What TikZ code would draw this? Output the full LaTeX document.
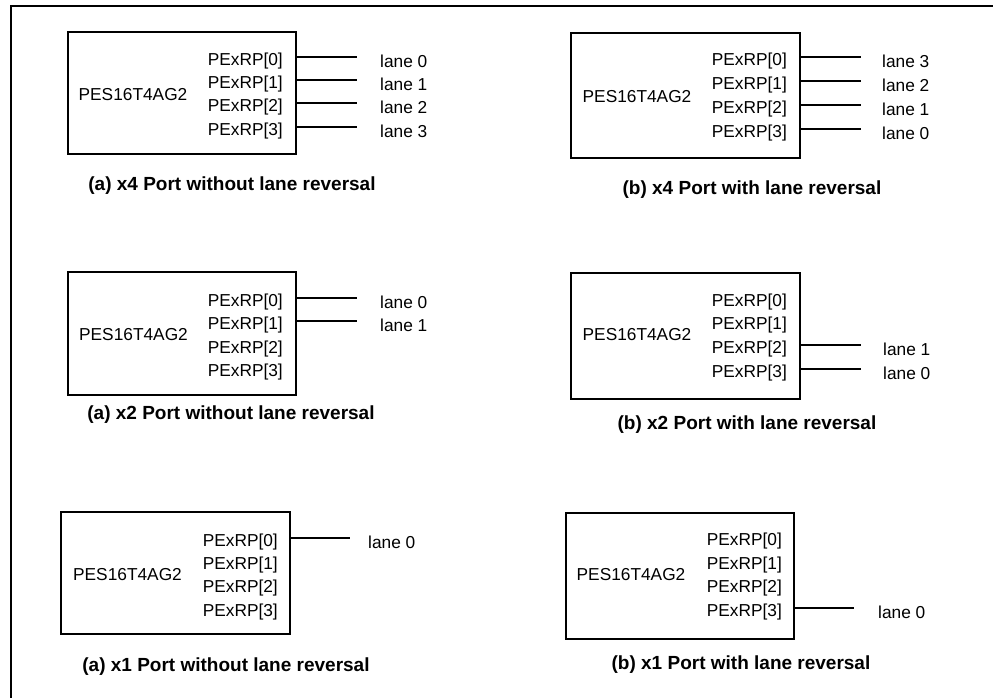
\documentclass[tikz,border=0pt]{standalone}
\usepackage{fontspec}
\setmainfont{Liberation Sans}
\usetikzlibrary{calc}
\begin{document}
\begin{tikzpicture}[x=1pt,y=-1pt,
  chip/.style={draw,line width=2pt,inner sep=0pt},
  txt/.style={inner sep=0pt,font=\fontsize{17.3}{20}\selectfont},
  port/.style={txt,anchor=east},
  lane/.style={txt,anchor=west},
  captiontxt/.style={inner sep=0pt,font=\fontsize{19}{22}\selectfont\bfseries},
  wire/.style={line width=2pt},
  frame/.style={line width=2pt}]
\useasboundingbox (0,0) rectangle (993,697);
\coordinate (fa) at (11,700);
\coordinate (fb) at (11,6);
\coordinate (fc) at (996,6);
\draw[frame] (fa) -- (fb) -- (fc);

% ---------- Box 1 ----------
\node[chip,minimum width=228pt,minimum height=122pt] (b1) at (182,93) {};
\node[txt] (n1) at (133,95) {PES16T4AG2};
\node[port] (p10) at (283,61) {PExRP[0]};
\node[port] (p11) at (283,84) {PExRP[1]};
\node[port] (p12) at (283,107) {PExRP[2]};
\node[port] (p13) at (283,131) {PExRP[3]};
\node[lane] (l10) at (380,61) {lane 0};
\node[lane] (l11) at (380,84) {lane 1};
\node[lane] (l12) at (380,107) {lane 2};
\node[lane] (l13) at (380,131) {lane 3};
\draw[wire] ($(b1.east|-p10)+(0,-4)$) -- ($(l10.west)+(-23,-4)$);
\draw[wire] ($(b1.east|-p11)+(0,-4)$) -- ($(l11.west)+(-23,-4)$);
\draw[wire] ($(b1.east|-p12)+(0,-4)$) -- ($(l12.west)+(-23,-4)$);
\draw[wire] ($(b1.east|-p13)+(0,-4)$) -- ($(l13.west)+(-23,-4)$);
\node[captiontxt] (c1) at (232,186) {(a) x4 Port without lane reversal};

% ---------- Box 2 ----------
\node[chip,minimum width=229pt,minimum height=125pt] (b2) at (685.5,95.5) {};
\node[txt] (n2) at (637,97) {PES16T4AG2};
\node[port] (p20) at (787,61) {PExRP[0]};
\node[port] (p21) at (787,85) {PExRP[1]};
\node[port] (p22) at (787,109) {PExRP[2]};
\node[port] (p23) at (787,133) {PExRP[3]};
\node[lane] (l20) at (882,61) {lane 3};
\node[lane] (l21) at (882,85) {lane 2};
\node[lane] (l22) at (882,109) {lane 1};
\node[lane] (l23) at (882,133) {lane 0};
\draw[wire] ($(b2.east|-p20)+(0,-4)$) -- ($(l20.west)+(-21,-4)$);
\draw[wire] ($(b2.east|-p21)+(0,-4)$) -- ($(l21.west)+(-21,-4)$);
\draw[wire] ($(b2.east|-p22)+(0,-4)$) -- ($(l22.west)+(-21,-4)$);
\draw[wire] ($(b2.east|-p23)+(0,-4)$) -- ($(l23.west)+(-21,-4)$);
\node[captiontxt] (c2) at (752,190) {(b) x4 Port with lane reversal};

% ---------- Box 3 ----------
\node[chip,minimum width=228pt,minimum height=123pt] (b3) at (182,333.5) {};
\node[txt] (n3) at (133.5,335) {PES16T4AG2};
\node[port] (p30) at (283,302) {PExRP[0]};
\node[port] (p31) at (283,325) {PExRP[1]};
\node[port] (p32) at (283,349) {PExRP[2]};
\node[port] (p33) at (283,372) {PExRP[3]};
\node[lane] (l30) at (380,302) {lane 0};
\node[lane] (l31) at (380,325) {lane 1};
\draw[wire] ($(b3.east|-p30)+(0,-4)$) -- ($(l30.west)+(-23,-4)$);
\draw[wire] ($(b3.east|-p31)+(0,-4)$) -- ($(l31.west)+(-23,-4)$);
\node[captiontxt] (c3) at (231,415) {(a) x2 Port without lane reversal};

% ---------- Box 4 ----------
\node[chip,minimum width=229pt,minimum height=126pt] (b4) at (685.5,336) {};
\node[txt] (n4) at (637,335) {PES16T4AG2};
\node[port] (p40) at (787,302) {PExRP[0]};
\node[port] (p41) at (787,325) {PExRP[1]};
\node[port] (p42) at (787,349) {PExRP[2]};
\node[port] (p43) at (787,373) {PExRP[3]};
\node[lane] (l42) at (883,349) {lane 1};
\node[lane] (l43) at (883,373) {lane 0};
\draw[wire] ($(b4.east|-p42)+(0,-4)$) -- ($(l42.west)+(-22,-4)$);
\draw[wire] ($(b4.east|-p43)+(0,-4)$) -- ($(l43.west)+(-22,-4)$);
\node[captiontxt] (c4) at (747,425) {(b) x2 Port with lane reversal};

% ---------- Box 5 ----------
\node[chip,minimum width=229pt,minimum height=122pt] (b5) at (175.5,573) {};
\node[txt] (n5) at (127.5,575) {PES16T4AG2};
\node[port] (p50) at (278,542) {PExRP[0]};
\node[port] (p51) at (278,565) {PExRP[1]};
\node[port] (p52) at (278,588) {PExRP[2]};
\node[port] (p53) at (278,612) {PExRP[3]};
\node[lane] (l50) at (368,542) {lane 0};
\draw[wire] ($(b5.east|-p50)+(0,-4)$) -- ($(l50.west)+(-18,-4)$);
\node[captiontxt] (c5) at (226,667) {(a) x1 Port without lane reversal};

% ---------- Box 6 ----------
\node[chip,minimum width=228pt,minimum height=126pt] (b6) at (680,576) {};
\node[txt] (n6) at (631,575) {PES16T4AG2};
\node[port] (p60) at (782,541) {PExRP[0]};
\node[port] (p61) at (782,565) {PExRP[1]};
\node[port] (p62) at (782,588) {PExRP[2]};
\node[port] (p63) at (782,612) {PExRP[3]};
\node[lane] (l63) at (878,612) {lane 0};
\draw[wire] ($(b6.east|-p63)+(0,-4)$) -- ($(l63.west)+(-24,-4)$);
\node[captiontxt] (c6) at (741,665) {(b) x1 Port with lane reversal};
\end{tikzpicture}
\end{document}
